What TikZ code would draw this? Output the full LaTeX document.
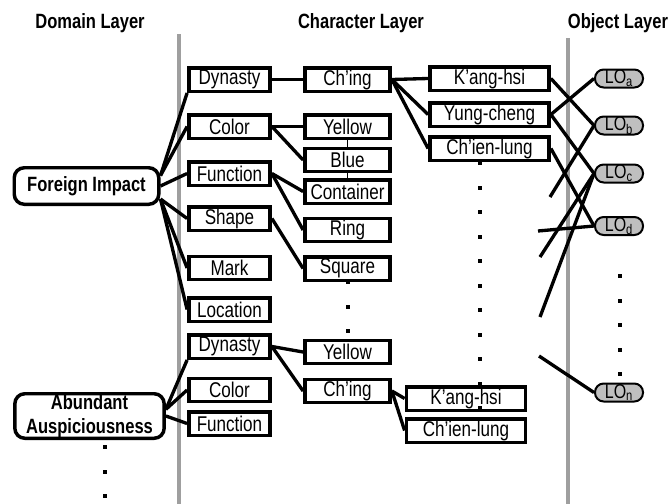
\documentclass[tikz,border=0pt]{standalone}
\usepackage{fontspec}
\setmainfont[FakeStretch=0.8]{Liberation Sans}

\begin{document}
\begin{tikzpicture}[x=0.75pt,y=-0.75pt,
    every node/.style={font=\fontsize{16}{18}\selectfont, inner sep=0pt},
    layerline/.style={draw=gray!75, line width=3pt},
    headtext/.style={font=\fontsize{15.5}{18}\selectfont\bfseries, anchor=base},
    domainbox/.style={draw, line width=2.6pt, rounded corners=7.5pt, fill=white,
        font=\fontsize{15.5}{18}\selectfont\bfseries, align=center},
    attrbox/.style={draw, line width=2.6pt, fill=white, minimum width=61pt, minimum height=17.6pt},
    valbox/.style={attrbox, minimum width=64pt},
    erabox/.style={attrbox, minimum width=89.5pt},
    objbox/.style={draw, line width=1.5pt, fill=gray!50, rounded corners=6.5pt,
        minimum width=36pt, minimum height=13.5pt, font=\fontsize{15}{18}\selectfont},
    link/.style={line width=2.5pt},
    thinlink/.style={line width=0.6pt}]
    \useasboundingbox (0,0) rectangle (672,504);

    % layer headers and separators
    \node[headtext] (hdom) at (90,28) {Domain Layer};
    \node[headtext] (hchr) at (361,28) {Character Layer};
    \node[headtext] (hobj) at (618,28) {Object Layer};
    \draw[layerline] (179,34) -- (179,504);
    \draw[layerline] (568,38) -- (568,504);

    % domain layer
    \node[domainbox, minimum width=108.4pt, minimum height=27.4pt] (fi) at (86.5,186) {Foreign Impact};
    \node[domainbox, minimum width=112pt, minimum height=33.4pt] (ab) at (89.5,416) {Abundant\\Auspiciousness};

    % character layer: attributes
    \node[attrbox] (dynA) at (229.5,79.5) {Dynasty};
    \node[attrbox] (colA) at (229.5,126.5) {Color};
    \node[attrbox] (funA) at (229.5,173.5) {Function};
    \node[attrbox] (shpA) at (229.5,218.5) {Shape};
    \node[attrbox] (mrkA) at (229.5,268) {Mark};
    \node[attrbox] (locA) at (229.5,309.5) {Location};
    \node[attrbox] (dynB) at (229.5,346.5) {Dynasty};
    \node[attrbox] (colB) at (229.5,390) {Color};
    \node[attrbox] (funB) at (229.5,423.5) {Function};

    % character layer: values
    \node[valbox] (chingA) at (347.5,79.5) {Ch'ing};
    \node[valbox] (yelA) at (347.5,126.5) {Yellow};
    \node[valbox] (blue) at (347.5,160) {Blue};
    \node[valbox] (cont) at (347.5,191.5) {Container};
    \node[valbox] (ring) at (347.5,230) {Ring};
    \node[valbox] (square) at (347.5,268.5) {Square};
    \node[valbox] (yelB) at (347.5,352) {Yellow};
    \node[valbox] (chingB) at (347.5,391) {Ch'ing};

    % character layer: reigns
    \node[erabox] (kangA) at (489.5,78.5) {K'ang-hsi};
    \node[erabox] (yung) at (489.5,114.5) {Yung-cheng};
    \node[erabox] (chien) at (489.5,148.5) {Ch'ien-lung};
    \node[erabox] (kangB) at (466,398.5) {K'ang-hsi};
    \node[erabox] (chienB) at (466,430.5) {Ch'ien-lung};

    % object layer
    \node[objbox] (loa) at (619,78.5) {LO\textsubscript{a}};
    \node[objbox] (lob) at (619,125.5) {LO\textsubscript{b}};
    \node[objbox] (loc) at (619,173.5) {LO\textsubscript{c}};
    \node[objbox] (lod) at (619,226) {LO\textsubscript{d}};
    \node[objbox] (lon) at (619,392.5) {LO\textsubscript{n}};

    % domain -> attribute
    \draw[link] (fi.8) -- (dynA.south west);
    \draw[link] (fi.8) -- (colA.west);
    \draw[link] (fi.east) -- (funA.west);
    \draw[link] (fi.-10) -- (shpA.west);
    \draw[link] (fi.-10) -- (mrkA.west);
    \draw[link] (fi.-10) -- (locA.west);
    \draw[link] (ab.5) -- (dynB.south west);
    \draw[link] (ab.5) -- (colB.west);
    \draw[link] (ab.east) -- (funB.west);

    % attribute -> value
    \draw[link] (dynA.east) -- (chingA.west);
    \draw[link] (colA.east) -- (yelA.west);
    \draw[link] (colA.east) -- (blue.west);
    \draw[link] (funA.east) -- (cont.west);
    \draw[link] (funA.east) -- (ring.west);
    \draw[link] (shpA.east) -- (square.west);
    \draw[link] (dynB.east) -- (yelB.west);
    \draw[link] (dynB.east) -- (chingB.west);
    \draw[thinlink] (yelA.south) -- (blue.north);
    \draw[thinlink] (blue.south) -- (cont.north);

    % value -> reign
    \draw[link] (chingA.east) -- (kangA.west);
    \draw[link] (chingA.east) -- (yung.west);
    \draw[link] (chingA.east) -- (chien.west);
    \draw[link] (chingB.east) -- (kangB.west);
    \draw[link] (chingB.east) -- (chienB.west);

    % reign -> object
    \draw[link] (kangA.east) -- (lob.west);
    \draw[link] (yung.east) -- (loa.west);
    \draw[link] (yung.east) -- (loc.west);
    \draw[link] (chien.east) -- (lod.west);
    \draw (550,197) coordinate (e1);
    \draw (540,257) coordinate (e2);
    \draw (540,317) coordinate (e3);
    \draw (538,231) coordinate (e4);
    \draw (539,356) coordinate (e5);
    \draw[link] (e1) -- (lob.west);
    \draw[link] (e2) -- (loc.west);
    \draw[link] (e3) -- (loc.west);
    \draw[link] (e4) -- (lod.west);
    \draw[link] (e5) -- (lon.west);

    % continuation dots
    \foreach \y in {163,187.5,...,408} \fill (480,\y) +(-2,-2) rectangle +(2,2);
    \foreach \y in {282,306.5,331} \fill (348,\y) +(-2,-2) rectangle +(2,2);
    \foreach \y in {447,471.5,496} \fill (105,\y) +(-2,-2) rectangle +(2,2);
    \foreach \y in {276,300.5,...,374} \fill (620,\y) +(-2,-2) rectangle +(2,2);
\end{tikzpicture}
\end{document}
